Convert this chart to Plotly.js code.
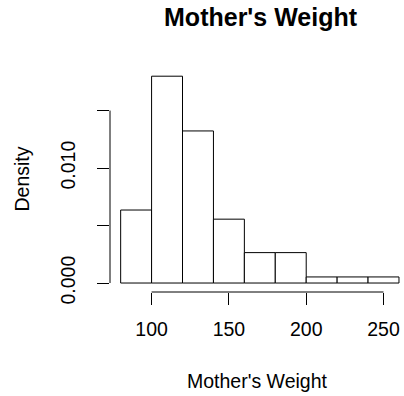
<!DOCTYPE html>
<html>
<head>
<meta charset="utf-8">
<script src="https://cdn.plot.ly/plotly-3.0.1.min.js"></script>
<style>
  html, body { margin: 0; padding: 0; background: #ffffff; }
  #chart { width: 404px; height: 396px; }
</style>
</head>
<body>
<div id="chart"></div>
<script>
// Histogram of mother's weight (lbs), density scale, 20-lb bins
const breaks = [80, 100, 120, 140, 160, 180, 200, 220, 240, 260];
const counts = [24, 68, 50, 21, 10, 10, 2, 2, 2];
const xTicks = [100, 150, 200, 250];
const yTicks = [0, 0.005, 0.010, 0.015];
const yTickText = ['0.000', '', '0.010', ''];

const total = counts.reduce((a, b) => a + b, 0);
const binLeft = breaks.slice(0, -1);
const binWidth = binLeft.map((b, i) => breaks[i + 1] - b);
const density = counts.map((c, i) => c / (total * binWidth[i]));

const font = 'Liberation Sans, Arial, Helvetica, sans-serif';

const trace = {
  type: 'bar',
  x: binLeft,
  y: density,
  width: binWidth,
  offset: 0,
  marker: { color: '#ffffff', line: { color: '#000000', width: 1 } },
  hoverinfo: 'skip'
};

const layout = {
  width: 404,
  height: 396,
  margin: { l: 110, r: 0, t: 67, b: 103.5 },
  paper_bgcolor: '#ffffff',
  plot_bgcolor: '#ffffff',
  showlegend: false,
  bargap: 0,
  font: { family: font, color: '#000000', size: 19.5 },
  title: {
    text: "<b>Mother's Weight</b>",
    font: { family: font, size: 25, color: '#000000' },
    xref: 'paper', x: 0.512, xanchor: 'center',
    yref: 'container', y: 1 - 17 / 396, yanchor: 'middle'
  },
  xaxis: {
    range: [73.1, 263.25],
    tickmode: 'array',
    tickvals: xTicks,
    ticktext: xTicks.map(String),
    ticks: 'outside', ticklen: 12, tickwidth: 1, tickcolor: '#000000',
    ticklabelstandoff: 8,
    showline: false, showgrid: false, zeroline: false,
    tickfont: { family: font, size: 19.5, color: '#000000' }
  },
  yaxis: {
    range: [-0.00078, 0.01879],
    tickmode: 'array',
    tickvals: yTicks,
    ticktext: yTickText,
    tickangle: -90,
    ticks: 'outside', ticklen: 12, tickwidth: 1, tickcolor: '#000000',
    ticklabelstandoff: 14,
    showline: false, showgrid: false, zeroline: false,
    tickfont: { family: font, size: 19.5, color: '#000000' }
  },
  shapes: [
    // axis lines run from first to last tick
    { type: 'line', xref: 'x', yref: 'paper',
      x0: xTicks[0], x1: xTicks[xTicks.length - 1], y0: 0, y1: 0,
      line: { color: '#000000', width: 1 } },
    { type: 'line', xref: 'paper', yref: 'y',
      x0: 0, x1: 0, y0: yTicks[0], y1: yTicks[yTicks.length - 1],
      line: { color: '#000000', width: 1 } }
  ],
  annotations: [
    { text: "Mother's Weight", xref: 'paper', yref: 'paper',
      x: 0.5, y: -0.397, xanchor: 'center', yanchor: 'middle',
      showarrow: false, font: { family: font, size: 19.5, color: '#000000' } },
    { text: 'Density', xref: 'paper', yref: 'paper',
      x: -0.3027, y: 0.5, xanchor: 'center', yanchor: 'middle', textangle: -90,
      showarrow: false, font: { family: font, size: 19.5, color: '#000000' } }
  ]
};

Plotly.newPlot('chart', [trace], layout, { displayModeBar: false, staticPlot: true });
</script>
</body>
</html>
